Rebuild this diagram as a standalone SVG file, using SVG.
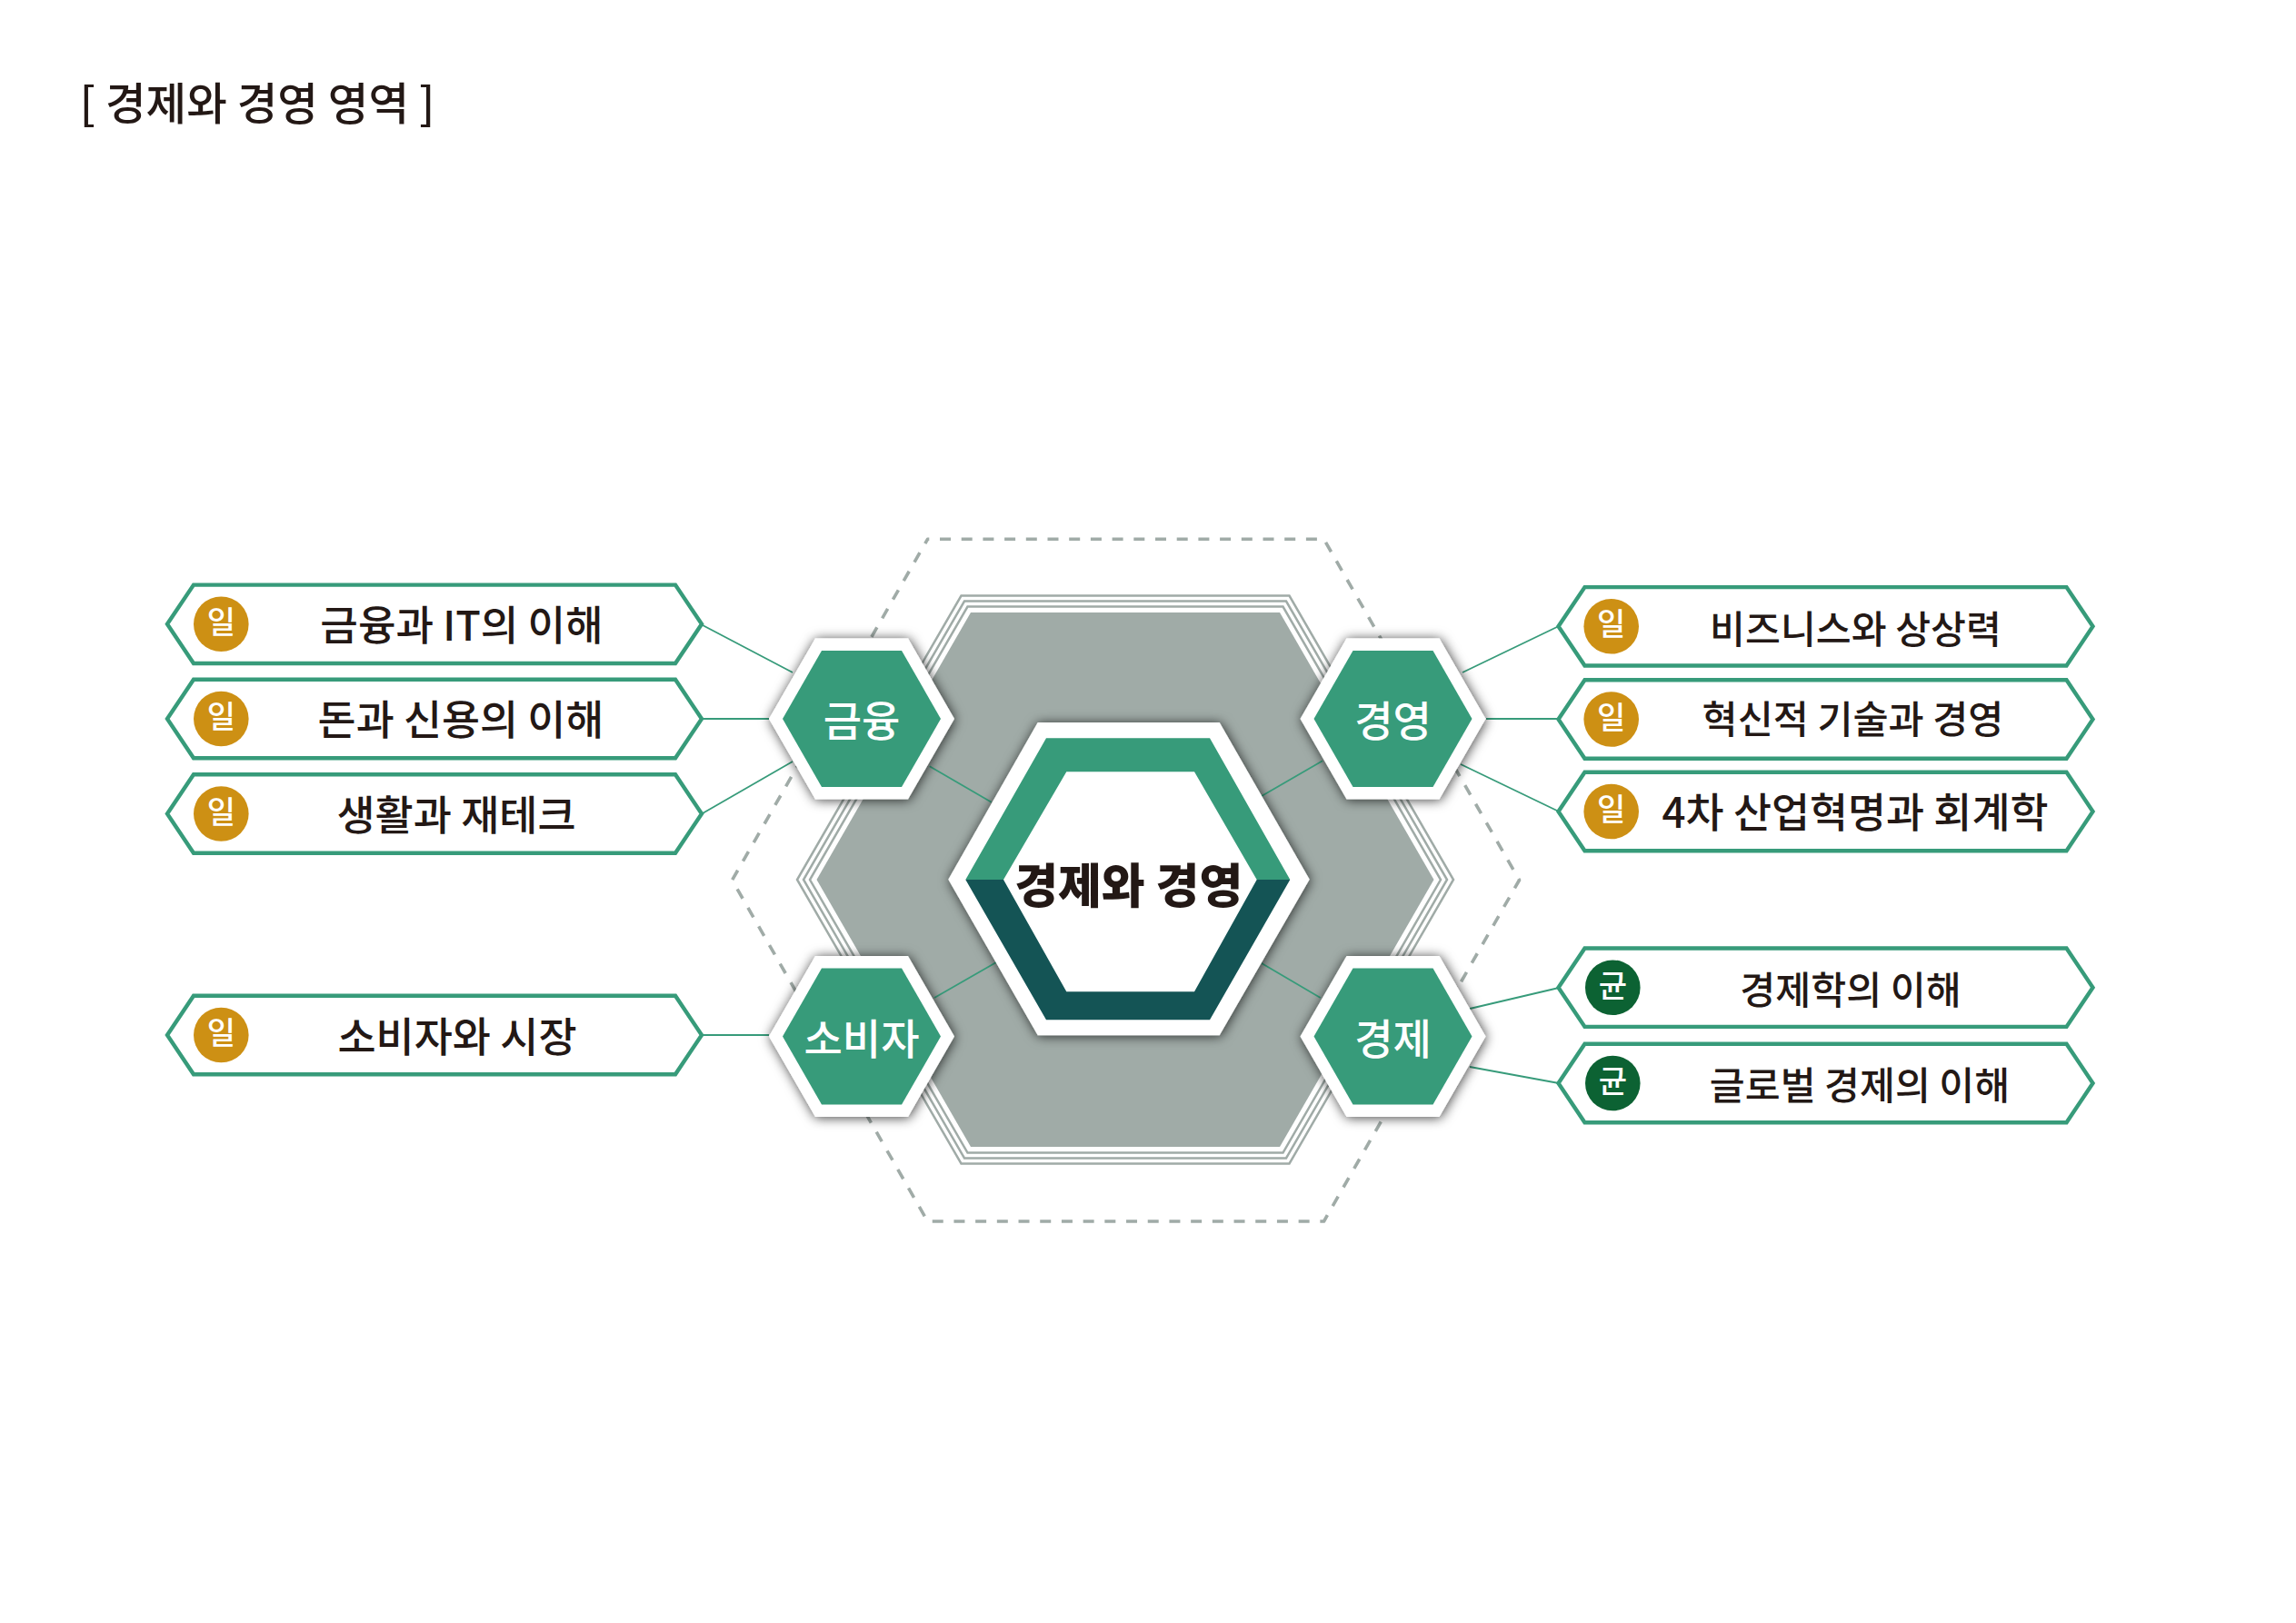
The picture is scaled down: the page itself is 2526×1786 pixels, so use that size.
<svg xmlns="http://www.w3.org/2000/svg" width="2526" height="1786" viewBox="0 0 2526 1786">
<style>
text{font-family:"Noto Sans CJK KR","Noto Sans",sans-serif;fill:#231815;text-anchor:middle;font-weight:500}
.badge{font-size:34px;fill:#fff}
.hx{font-size:46px;fill:#fff}
.box{fill:#fff;stroke:#379b7a;stroke-width:4.4}
.con{stroke:#379b7a;stroke-width:1.8;fill:none}
.gl{fill:none;stroke:#a0aba7;stroke-width:2.5}
.g{fill:#cd9014}
.d{fill:#0c6233}
</style>
<defs>
<polygon id="box" points="-1,0 28,-43.2 558,-43.2 587,0 558,43.2 28,43.2"/>
<polygon id="hw" points="-51,-88.5 51,-88.5 102,0 51,88.5 -51,88.5 -102,0"/>
<polygon id="hg" points="-44,-75 44,-75 87,0 44,75 -44,75 -87,0"/>
<filter id="sh" x="-30%" y="-30%" width="160%" height="160%"><feDropShadow dx="1" dy="1" stdDeviation="6.5" flood-color="#000" flood-opacity="0.75"/></filter>
</defs>
<rect width="2526" height="1786" fill="#fff"/>
<text id="title" x="283" y="132" style="font-size:48.5px">[ 경제와 경영 영역 ]</text>
<g id="backdrop">
<polygon points="1020.5,593.3 1456.5,593.3 1671.5,968.5 1456.5,1344 1020.5,1344 805.5,968.5" fill="none" stroke="#a0aba7" stroke-width="3.6" stroke-linejoin="round" stroke-dasharray="12 11.7" stroke-dashoffset="10.2"/>
<polygon class="gl" points="1057.5,655.5 1418.5,655.5 1599,968 1418.5,1280.5 1057.5,1280.5 877,968"/>
<polygon class="gl" points="1061,661.5 1415,661.5 1592,968 1415,1274.5 1061,1274.5 884,968"/>
<polygon class="gl" points="1064.5,667.5 1411.5,667.5 1585,968 1411.5,1268.5 1064.5,1268.5 891,968"/>
<polygon points="1068,674 1408,674 1577.5,968 1408,1262 1068,1262 898.5,968" fill="#a0aba7"/>
</g>
<g id="connectors">
<path class="con" d="M773,688L872,740M773,791H846M773,895L872,838M773,1139H846M1635,791H1716M1609,740L1715,689M1607,841L1715,893M1617,1110L1715,1087M1617,1174L1715,1192M1022.7,843.3L1090.7,882.7M1388,876L1455,837.3M1028,1098L1096,1059M1388,1060L1452.7,1098"/>
</g>
<g id="hub">
<polygon points="1141.7,795 1341.7,795 1440.7,967.7 1341.7,1139.3 1141.7,1139.3 1043.3,967.7" fill="#fff" filter="url(#sh)"/>
<polygon points="1062.3,968 1151,812.3 1331,812.3 1419.3,968 1382.7,968 1314,849.3 1173.3,849.3 1104,968" fill="#379b7a"/>
<polygon points="1062.3,968 1151,1122.3 1331,1122.3 1419.3,968 1382.7,968 1314,1091.3 1173.3,1091.3 1104,968" fill="#145455"/>
<text x="1241.7" y="994" style="font-size:52px;font-weight:900">경제와 경영</text>
</g>
<g id="n-finance" transform="translate(948,791)"><use href="#hw" fill="#fff" filter="url(#sh)"/><use href="#hg" fill="#379b7a"/><text class="hx" y="19">금융</text></g>
<g id="n-business" transform="translate(1532.5,791)"><use href="#hw" fill="#fff" filter="url(#sh)"/><use href="#hg" fill="#379b7a"/><text class="hx" y="19">경영</text></g>
<g id="n-consumer" transform="translate(948,1140.5)"><use href="#hw" fill="#fff" filter="url(#sh)"/><use href="#hg" fill="#379b7a"/><text class="hx" y="19">소비자</text></g>
<g id="n-economy" transform="translate(1532.5,1140.5)"><use href="#hw" fill="#fff" filter="url(#sh)"/><use href="#hg" fill="#379b7a"/><text class="hx" y="19">경제</text></g>
<g id="l1" transform="translate(185,686.8)"><use href="#box" class="box"/><circle class="g" cx="58.3" r="30.3"/><text class="badge" x="58.3" y="10">일</text><text x="323" y="18" style="font-size:45.2px">금융과 IT의 이해</text></g>
<g id="l2" transform="translate(185,791)"><use href="#box" class="box"/><circle class="g" cx="58.3" r="30.3"/><text class="badge" x="58.3" y="10">일</text><text x="322" y="18" style="font-size:45.7px">돈과 신용의 이해</text></g>
<g id="l3" transform="translate(185,895.5)"><use href="#box" class="box"/><circle class="g" cx="58.3" r="30.3"/><text class="badge" x="58.3" y="10">일</text><text x="317" y="18" style="font-size:45.8px">생활과 재테크</text></g>
<g id="l4" transform="translate(185,1139)"><use href="#box" class="box"/><circle class="g" cx="58.3" r="30.3"/><text class="badge" x="58.3" y="10">일</text><text x="318" y="19" style="font-size:45.8px">소비자와 시장</text></g>
<g id="r1" transform="translate(1715.5,689.3)"><use href="#box" class="box"/><circle class="g" cx="57.2" r="30.3"/><text class="badge" x="57.2" y="10">일</text><text x="326" y="18.5" style="font-size:42.3px">비즈니스와 상상력</text></g>
<g id="r2" transform="translate(1715.5,791.5)"><use href="#box" class="box"/><circle class="g" cx="57.2" r="30.3"/><text class="badge" x="57.2" y="10">일</text><text x="323" y="15" style="font-size:42.5px">혁신적 기술과 경영</text></g>
<g id="r3" transform="translate(1715.5,893)"><use href="#box" class="box"/><circle class="g" cx="57.2" r="30.3"/><text class="badge" x="57.2" y="10">일</text><text x="325.5" y="18" style="font-size:45.7px">4차 산업혁명과 회계학</text></g>
<g id="r4" transform="translate(1715.5,1086.7)"><use href="#box" class="box"/><circle class="d" cx="58.8" r="30.3"/><text class="badge" x="58.8" y="10">균</text><text x="320.5" y="18" style="font-size:42.4px">경제학의 이해</text></g>
<g id="r5" transform="translate(1715.5,1192)"><use href="#box" class="box"/><circle class="d" cx="58.8" r="30.3"/><text class="badge" x="58.8" y="10">균</text><text x="330.5" y="18" style="font-size:42.3px">글로벌 경제의 이해</text></g>
</svg>
